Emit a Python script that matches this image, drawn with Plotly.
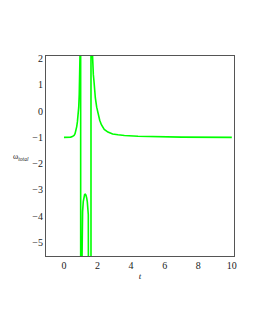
import plotly.graph_objects as go

# Values (t, omega_total), single polyline as drawn
t_vals = [0.0, 0.2, 0.4, 0.5, 0.6, 0.66, 0.72, 0.76, 0.80, 0.85, 0.88, 0.91, 0.93, 0.95, 0.97, 0.99,
          1.00,
          1.05, 1.07, 1.09, 1.11, 1.15, 1.19, 1.23, 1.27, 1.31, 1.35, 1.39, 1.45, 1.49, 1.52, 1.55,
          1.61, 1.61,
          1.67, 1.70, 1.75, 1.79, 1.85, 1.87, 1.95, 2.03, 2.13, 2.23, 2.4, 2.62, 2.9, 3.22, 3.6,
          4.41, 5.5, 7.0, 10.0]
omega_vals = [-1.0, -1.0, -0.99, -0.97, -0.93, -0.86, -0.74, -0.59, -0.41, -0.14, 0.15, 0.63, 1.0, 1.52, 2.6, 40,
              -40,
              -7.0, -5.5, -4.34, -3.83, -3.45, -3.26, -3.18, -3.17, -3.2, -3.3, -3.45, -3.95, -4.72, -6.0, -40,
              -40, 40,
              2.6, 1.9, 1.39, 1.13, 0.6, 0.5, 0.15, -0.14, -0.35, -0.52, -0.7, -0.80, -0.87, -0.90, -0.93,
              -0.96, -0.98, -0.99, -1.0]

x_ticks = [0, 2, 4, 6, 8, 10]
y_ticks = [2, 1, 0, -1, -2, -3, -4, -5]

FAM = "Liberation Serif"
TXT = "#222"
font = dict(family=FAM, size=10, color=TXT)

ML, MR, MT, MB = 38, 29, 48, 82
W, H = 255, 330

fig = go.Figure()
fig.add_trace(go.Scatter(x=t_vals, y=omega_vals, mode="lines",
                         line=dict(color="#00ff00", width=1.6), showlegend=False))

fig.update_layout(
    width=W, height=H,
    margin=dict(l=ML, r=MR, t=MT, b=MB),
    paper_bgcolor="white", plot_bgcolor="white",
    font=font,
    xaxis=dict(range=[-1.07, 10.13], tickvals=x_ticks, showgrid=False, zeroline=False,
               showline=True, linecolor="#555", linewidth=1, mirror=True,
               ticks="", tickfont=font,
               title=dict(text="<i>t</i>", font=dict(family=FAM, size=9, color=TXT), standoff=2)),
    yaxis=dict(range=[-5.52, 2.1], tickvals=y_ticks, showgrid=False, zeroline=False,
               showline=True, linecolor="#555", linewidth=1, mirror=True,
               ticks="", tickfont=font),
)

fig.add_annotation(x=(13 - ML) / (W - ML - MR), y=-1.75, xref="paper", yref="y",
                   text="ω<sub><i>total</i></sub>",
                   showarrow=False, font=dict(family=FAM, size=8, color=TXT),
                   xanchor="center", yanchor="middle")

fig.write_html("out.html")
